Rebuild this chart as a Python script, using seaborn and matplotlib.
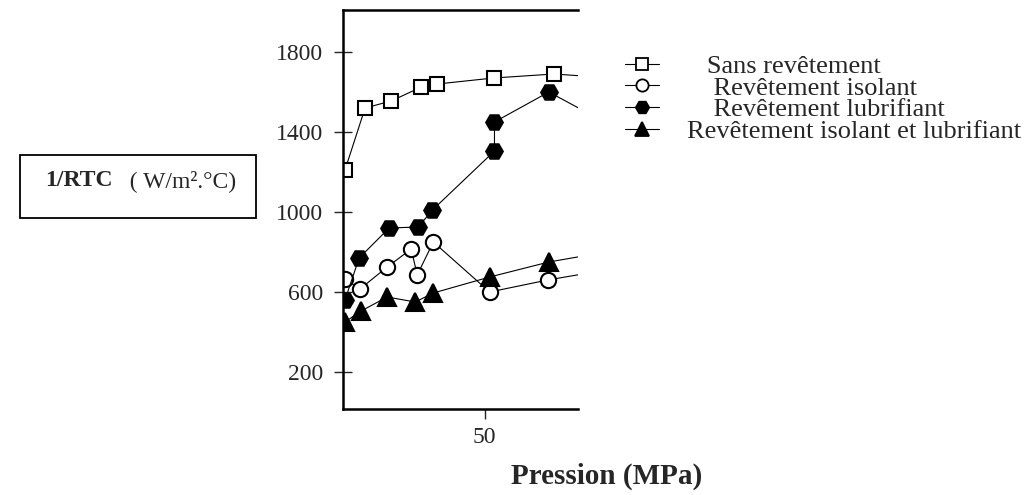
import numpy as np
import pandas as pd
import seaborn as sns
import matplotlib.pyplot as plt
from matplotlib.lines import Line2D
from matplotlib.patches import Rectangle

# pression (MPa) / 1/RTC (W/m2.C)
p_sans = [0.7, 7.8, 17.0, 27.7, 33.3, 53.2, 74.5, 95.0]
rtc_sans = [1210, 1520, 1555, 1625, 1640, 1670, 1690, 1670]

p_isolant = [0.7, 6.0, 15.6, 24.1, 26.2, 31.9, 51.8, 72.3, 95.0]
rtc_isolant = [665, 615, 725, 815, 685, 850, 600, 660, 715]

p_lubri = [0.7, 5.7, 16.3, 26.6, 31.6, 53.5, 53.5, 72.7, 95.0]
rtc_lubri = [560, 770, 920, 925, 1010, 1305, 1450, 1600, 1430]

p_iso_lub = [0.7, 6.4, 15.6, 25.5, 31.9, 51.8, 72.7, 95.0]
rtc_iso_lub = [450, 505, 575, 550, 595, 675, 750, 805]

labels = ["   Sans revêtement", "    Revêtement isolant",
          "    Revêtement lubrifiant", "Revêtement isolant et lubrifiant"]

series = [
    (p_sans, rtc_sans, "s", "white", 10),
    (p_isolant, rtc_isolant, "o", "white", 11),
    (p_lubri, rtc_lubri, "H", "black", 12),
    (p_iso_lub, rtc_iso_lub, "^", "black", 13),
]

sns.set_style("white")
plt.rcParams['font.family'] = ['Liberation Serif', 'DejaVu Serif']

fig = plt.figure(figsize=(10.26, 4.95), dpi=100)
ax = fig.add_axes([343/1026, 1-409/495, (578-343)/1026, (409-10)/495])

for (px, py, mk, fc, ms), lab in zip(series, labels):
    df = pd.DataFrame({"p": px, "rtc": py})
    sns.lineplot(data=df, x="p", y="rtc", ax=ax, color="black", linewidth=0.8,
                 marker=mk, markersize=ms, markerfacecolor=fc, markeredgecolor="black",
                 markeredgewidth=1.5, estimator=None, sort=False, legend=False)

ax.set_xlim(0, 83)
ax.set_ylim(15, 2010)
ax.set_xticks([50])
ax.set_yticks([200, 600, 1000, 1400, 1800])
ax.set_xlabel("")
ax.set_ylabel("")
ax.tick_params(axis="y", direction="inout", length=13, width=1, labelsize=17, pad=8, left=True)
ax.tick_params(axis="x", direction="out", length=7, width=1, labelsize=17, pad=6, bottom=True)
for side in ["left", "top", "bottom"]:
    ax.spines[side].set_linewidth(1.8)
    ax.spines[side].set_color("black")
ax.spines["right"].set_visible(False)

handles = [Line2D([], [], color="black", linewidth=0.8, marker=mk, markersize=ms*0.8,
                  markerfacecolor=fc, markeredgecolor="black", markeredgewidth=1.3)
           for (_, _, mk, fc, ms) in series]
fig.legend(handles, labels, loc="upper left", bbox_to_anchor=(614/1026, 1-44/495),
           frameon=False, fontsize=19, handlelength=1.3, handletextpad=1.05,
           labelspacing=-0.07, borderaxespad=0)

fig.text(607/1026, 1-476/495, "Pression (MPa)", fontsize=21, fontweight="bold",
         ha="center", va="center")

fig.patches.append(Rectangle((20/1026, 1-218/495), 236/1026, 63/495,
                             transform=fig.transFigure, fill=False,
                             edgecolor="black", linewidth=1.3))
fig.text(45/1026, 1-181/495, "1/RTC", fontsize=17, fontweight="bold", va="center")
fig.text(118/1026, 1-181/495, "  ( W/m².°C)", fontsize=17, va="center")

fig.savefig("out.png", dpi=100)
